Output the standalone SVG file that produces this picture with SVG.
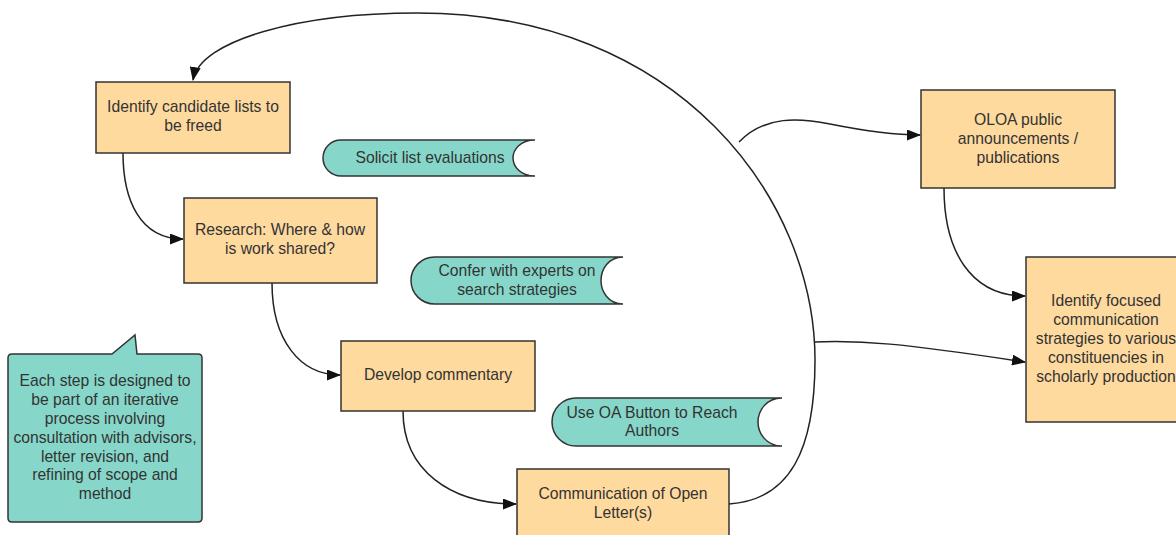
<svg xmlns="http://www.w3.org/2000/svg" width="1176" height="535" viewBox="0 0 1176 535">
<style>
.box{fill:#FFDA9F;stroke:#333;stroke-width:1.5}
.store{fill:#86D7C9;stroke:#333;stroke-width:1.5}
.t{font-family:"Liberation Sans",Arial,sans-serif;font-size:15.7px;fill:#333;text-anchor:middle}
.c{fill:none;stroke:#222;stroke-width:1.5;marker-end:url(#arr)}
</style>
<defs>
<marker id="arr" viewBox="0 0 14 11" refX="13" refY="5.5" markerWidth="14" markerHeight="11" markerUnits="userSpaceOnUse" orient="auto">
<path d="M0,0 L14,5.5 L0,11 Z" fill="#111"/>
</marker>
</defs>
<rect width="1176" height="535" fill="#fff"/>
<g id="connectors">
<path class="c" d="M123,153 C123,200 140,239 183,239"/>
<path class="c" d="M272,283 C272,340 300,375 340,375"/>
<path class="c" d="M403,411 C403,470 450,504 516,504"/>
<path class="c" d="M729,504 C790,500 815,450 815,360 C815,200 680,13 417,13 C300,13 200,40 193,80"/>
<path class="c" d="M739,142 C765,115 800,118 830,124 S890,135 920,135"/>
<path class="c" d="M944,188 C944,250 970,296 1025,296"/>
<path class="c" d="M814,342 C860,340 900,343 1025,362"/>
</g>
<g id="n1">
<rect class="box" x="96" y="82" width="194" height="71"/>
<text class="t" x="193" y="112">Identify candidate lists to</text>
<text class="t" x="193" y="131">be freed</text>
</g>
<g id="n2">
<path class="store" d="M341,140 H535 C520,140 513,150 513,158 C513,166 520,176 535,176 H341 A18,18 0 0 1 341,140 Z"/>
<text class="t" x="430" y="163">Solicit list evaluations</text>
</g>
<g id="n3">
<rect class="box" x="184" y="198" width="193" height="85"/>
<text class="t" x="280" y="235">Research: Where &amp; how</text>
<text class="t" x="280" y="254">is work shared?</text>
</g>
<g id="n4">
<path class="store" d="M434.5,257 H623 C608,257 601,270 601,280.5 C601,291 608,304 623,304 H434.5 A23.5,23.5 0 0 1 434.5,257 Z"/>
<text class="t" x="517" y="276">Confer with experts on</text>
<text class="t" x="517" y="295">search strategies</text>
</g>
<g id="n5">
<rect class="box" x="341" y="341" width="194" height="70"/>
<text class="t" x="438" y="380">Develop commentary</text>
</g>
<g id="n6">
<path class="store" d="M576,398 H782 C766,398 758,411 758,422 C758,433 766,446 782,446 H576 A24,24 0 0 1 576,398 Z"/>
<text class="t" x="652" y="418">Use OA Button to Reach</text>
<text class="t" x="652" y="436">Authors</text>
</g>
<g id="n7">
<rect class="box" x="517" y="469" width="212" height="80"/>
<text class="t" x="623" y="499">Communication of Open</text>
<text class="t" x="623" y="518">Letter(s)</text>
</g>
<g id="n8">
<path class="store" d="M12,354 H112 L135,335 L137,354 H198 Q202,354 202,358 V518 Q202,522 198,522 H12 Q8,522 8,518 V358 Q8,354 12,354 Z"/>
<text class="t" x="105" y="386">Each step is designed to</text>
<text class="t" x="105" y="405">be part of an iterative</text>
<text class="t" x="105" y="424">process involving</text>
<text class="t" x="105" y="443">consultation with advisors,</text>
<text class="t" x="105" y="462">letter revision, and</text>
<text class="t" x="105" y="480">refining of scope and</text>
<text class="t" x="105" y="499">method</text>
</g>
<g id="n9">
<rect class="box" x="921" y="90" width="194" height="98"/>
<text class="t" x="1018" y="125">OLOA public</text>
<text class="t" x="1018" y="144">announcements /</text>
<text class="t" x="1018" y="163">publications</text>
</g>
<g id="n10">
<rect class="box" x="1026" y="257" width="160" height="165"/>
<text class="t" x="1106" y="306">Identify focused</text>
<text class="t" x="1106" y="325">communication</text>
<text class="t" x="1106" y="344">strategies to various</text>
<text class="t" x="1106" y="363">constituencies in</text>
<text class="t" x="1106" y="382">scholarly production</text>
</g>
</svg>
